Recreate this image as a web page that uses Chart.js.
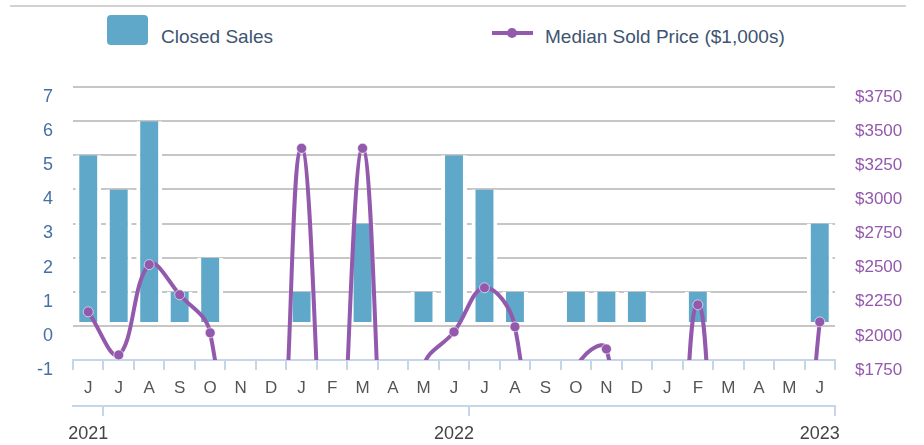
<!DOCTYPE html>
<html>
<head>
<meta charset="utf-8">
<script src="https://cdn.jsdelivr.net/npm/chart.js@4"></script>
<style>
  body { margin: 0; background: #fff; }
  #wrap { position: relative; width: 924px; height: 445px; overflow: hidden; }
  #topLine { position: absolute; left: 10px; top: 5px; width: 896px; height: 2px; background: #d2d2d2; }
  .legend-text { position: absolute; top: 27px; font: 19px "Liberation Sans", Arial, sans-serif; line-height: 19px; color: #3e5470; white-space: nowrap; }
  #boxSales { position: absolute; left: 107px; top: 15px; width: 41px; height: 30px; border-radius: 4px; background: #60a8c9; }
  #linePrice { position: absolute; left: 492px; top: 31px; width: 41px; height: 4px; background: #9359ac; }
  #dotPrice { position: absolute; left: 507px; top: 28px; width: 10px; height: 10px; border-radius: 50%; background: #9359ac; }
  canvas { position: absolute; left: 0; top: 0; }
</style>
</head>
<body>
<div id="wrap">
  <div id="topLine"></div>
  <div id="boxSales"></div>
  <div class="legend-text" style="left:161px">Closed Sales</div>
  <div id="linePrice"></div>
  <div id="dotPrice"></div>
  <div class="legend-text" style="left:545px">Median Sold Price ($1,000s)</div>
  <canvas id="grafico" width="924" height="445"></canvas>
</div>
<script>
  // June 2021 to June 2023
  const months = ["J", "J", "A", "S", "O", "N", "D", "J", "F", "M", "A", "M", "J",
                  "J", "A", "S", "O", "N", "D", "J", "F", "M", "A", "M", "J"];
  const years = ["2021", "2022", "2023"];
  const closedSales = [5, 4, 6, 1, 2, 0, 0, 1, 0, 3, 0, 1, 5, 4, 1, 0, 1, 1, 1, 0, 1, 0, 0, 0, 3];
  // median sold price in $1,000s (0 where nothing sold)
  const medianPrice = [2103, 1787, 2449, 2228, 1949, 0, 0, 3301, 0, 3301, 0, 1700, 1956,
                       2279, 1993, 0, 1680, 1831, 0, 0, 2154, 0, 0, 0, 2029];

  const fonte = "'Liberation Sans', Arial, sans-serif";
  const axisBlue = "#c5d6e8";
  const purple = "#9359ac";

  const yearTicks = months.map((m, i) => (i % 12 === 0 ? years[i / 12] : ""));

  function criarGrafico() {
    const ctx = document.getElementById("grafico").getContext("2d");

    new Chart(ctx, {
      type: "bar",
      data: {
        labels: months,
        datasets: [
          {
            type: "line",
            label: "Median Sold Price ($1,000s)",
            data: medianPrice,
            yAxisID: "y1",
            order: 0,
            borderColor: purple,
            borderWidth: 4,
            tension: 0.4,
            pointRadius: 5,
            pointBackgroundColor: purple,
            pointBorderColor: "rgba(255,255,255,0.6)",
            pointBorderWidth: 1,
          },
          {
            label: "Closed Sales",
            data: closedSales,
            yAxisID: "y",
            order: 1,
            backgroundColor: "#60a8c9",
            borderColor: "#ffffff",
            borderWidth: { top: 0, left: 4, right: 4, bottom: 3 },
            borderSkipped: false,
            barPercentage: 0.85,
            categoryPercentage: 1,
          },
        ],
      },
      options: {
        responsive: false,
        animation: false,
        layout: { padding: { top: 87, left: 0, right: 0, bottom: 0 } },
        plugins: {
          legend: { display: false },
          tooltip: { enabled: false },
        },
        scales: {
          x: {
            position: "bottom",
            weight: 0,
            offset: true,
            grid: {
              offset: true,
              drawOnChartArea: false,
              color: axisBlue,
              lineWidth: 2,
              tickLength: 10,
            },
            border: { color: axisBlue, width: 2 },
            ticks: {
              color: "#555",
              font: { family: fonte, size: 17 },
              padding: 8,
              maxRotation: 0,
              autoSkip: false,
            },
            afterFit: (scale) => { scale.height = 46; },
          },
          x2: {
            type: "category",
            position: "bottom",
            weight: 1,
            labels: yearTicks,
            offset: true,
            grid: {
              offset: true,
              drawOnChartArea: false,
              lineWidth: 2,
              tickLength: 10,
              color: (c) => (c.index === 1 || c.index === 13 || c.index === undefined ? axisBlue : "rgba(0,0,0,0)"),
            },
            border: { color: axisBlue, width: 2 },
            ticks: {
              color: "#444",
              font: { family: fonte, size: 18 },
              padding: 7,
              maxRotation: 0,
              autoSkip: false,
            },
            afterFit: (scale) => { scale.height = 39; },
          },
          y: {
            position: "left",
            min: -1,
            max: 7,
            ticks: {
              stepSize: 1,
              color: "#4470a6",
              font: { family: fonte, size: 18 },
              padding: 20,
              labelOffset: 10,
            },
            grid: {
              drawTicks: false,
              lineWidth: 2,
              color: (c) => (c.tick && c.tick.value === -1 ? "rgba(0,0,0,0)" : "#c6c6c6"),
            },
            border: { display: false },
            afterFit: (scale) => { scale.width = 73; },
          },
          y1: {
            position: "right",
            min: 1750,
            max: 3750,
            ticks: {
              stepSize: 250,
              color: purple,
              font: { family: fonte, size: 17 },
              padding: 20,
              labelOffset: 10,
              callback: (v) => "$" + v,
            },
            grid: { drawOnChartArea: false, drawTicks: false },
            border: { display: false },
            afterFit: (scale) => { scale.width = 89; },
          },
        },
      },
    });
  }

  document.addEventListener("DOMContentLoaded", criarGrafico);
</script>
</body>
</html>
